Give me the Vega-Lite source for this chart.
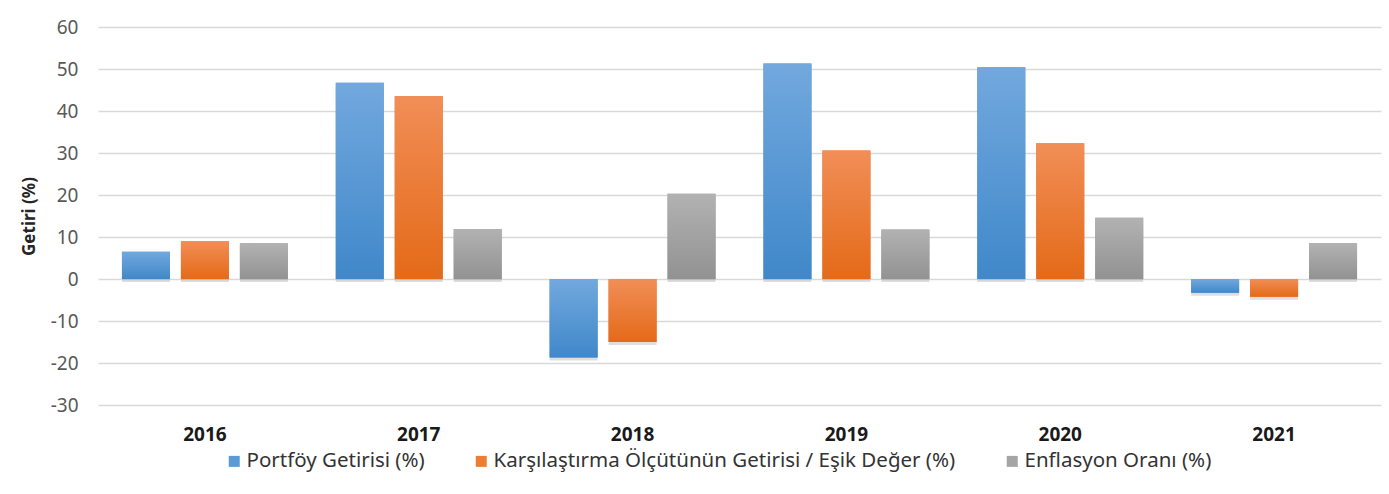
{
  "$schema": "https://vega.github.io/schema/vega-lite/v6.json",
  "width": 1283,
  "height": 378,
  "autosize": "none",
  "padding": {"left": 98, "top": 27, "right": 8, "bottom": 89},
  "background": "white",
  "config": {"view": {"stroke": null}, "font": "Noto Sans"},
  "data": {
    "values": [
      {"year": "2016", "series": "Portföy Getirisi (%)", "value": 6.5},
      {"year": "2016", "series": "Karşılaştırma Ölçütünün Getirisi / Eşik Değer (%)", "value": 9.0},
      {"year": "2016", "series": "Enflasyon Oranı (%)", "value": 8.5},
      {"year": "2017", "series": "Portföy Getirisi (%)", "value": 46.7},
      {"year": "2017", "series": "Karşılaştırma Ölçütünün Getirisi / Eşik Değer (%)", "value": 43.6},
      {"year": "2017", "series": "Enflasyon Oranı (%)", "value": 11.9},
      {"year": "2018", "series": "Portföy Getirisi (%)", "value": -18.7},
      {"year": "2018", "series": "Karşılaştırma Ölçütünün Getirisi / Eşik Değer (%)", "value": -15.0},
      {"year": "2018", "series": "Enflasyon Oranı (%)", "value": 20.3},
      {"year": "2019", "series": "Portföy Getirisi (%)", "value": 51.3},
      {"year": "2019", "series": "Karşılaştırma Ölçütünün Getirisi / Eşik Değer (%)", "value": 30.6},
      {"year": "2019", "series": "Enflasyon Oranı (%)", "value": 11.8},
      {"year": "2020", "series": "Portföy Getirisi (%)", "value": 50.4},
      {"year": "2020", "series": "Karşılaştırma Ölçütünün Getirisi / Eşik Değer (%)", "value": 32.3},
      {"year": "2020", "series": "Enflasyon Oranı (%)", "value": 14.6},
      {"year": "2021", "series": "Portföy Getirisi (%)", "value": -3.3},
      {"year": "2021", "series": "Karşılaştırma Ölçütünün Getirisi / Eşik Değer (%)", "value": -4.2},
      {"year": "2021", "series": "Enflasyon Oranı (%)", "value": 8.5}
    ]
  },
  "encoding": {
    "x": {
      "field": "year",
      "type": "nominal",
      "scale": {"paddingInner": 0.224, "paddingOuter": 0.112},
      "axis": {
        "title": null,
        "labelAngle": 0,
        "domain": false,
        "ticks": false,
        "grid": false,
        "labelFontWeight": "bold",
        "labelFontSize": 19,
        "labelColor": "#1a1a1a",
        "labelPadding": 20
      }
    },
    "xOffset": {
      "field": "series",
      "type": "nominal",
      "scale": {
        "domain": ["Portföy Getirisi (%)", "Karşılaştırma Ölçütünün Getirisi / Eşik Değer (%)", "Enflasyon Oranı (%)"],
        "paddingInner": 0.186,
        "paddingOuter": 0
      }
    },
    "y": {
      "field": "value",
      "type": "quantitative",
      "scale": {"domain": [-30, 60], "nice": false},
      "axis": {
        "values": [-30, -20, -10, 0, 10, 20, 30, 40, 50, 60],
        "labelExpr": "datum.value + ''",
        "grid": true,
        "gridColor": "#d9d9d9",
        "gridWidth": 1.5,
        "domain": false,
        "ticks": false,
        "labelFontSize": 19,
        "labelColor": "#595959",
        "labelPadding": 20,
        "title": "Getiri (%)",
        "titleFontSize": 17,
        "titleFontWeight": "bold",
        "titleColor": "#262626",
        "titlePadding": 12
      }
    }
  },
  "layer": [
    {
      "mark": {"type": "bar", "fill": "#000000", "opacity": 0.13, "yOffset": 3}
    },
    {
      "mark": {"type": "bar"},
      "encoding": {
        "color": {
          "field": "series",
          "type": "nominal",
          "scale": {
            "domain": ["Portföy Getirisi (%)", "Karşılaştırma Ölçütünün Getirisi / Eşik Değer (%)", "Enflasyon Oranı (%)"],
            "range": ["#5b9bd5", "#ed7d31", "#a5a5a5"]
          },
          "legend": {
            "orient": "none",
            "legendX": 126,
            "legendY": 424,
            "direction": "horizontal",
            "title": null,
            "symbolType": "square",
            "symbolSize": 121,
            "symbolStrokeWidth": 0,
            "labelFontSize": 20.5,
            "labelColor": "#333333",
            "labelLimit": 700,
            "columnPadding": 46,
            "labelOffset": 2,
            "padding": 0
          }
        }
      }
    },
    {
      "transform": [{"filter": "datum.series === 'Portföy Getirisi (%)'"}],
      "mark": {
        "type": "bar",
        "fill": {"gradient": "linear", "x1": 0, "y1": 0, "x2": 0, "y2": 1,
          "stops": [{"offset": 0, "color": "#72a8de"}, {"offset": 1, "color": "#4088ca"}]}
      }
    },
    {
      "transform": [{"filter": "datum.series === 'Karşılaştırma Ölçütünün Getirisi / Eşik Değer (%)'"}],
      "mark": {
        "type": "bar",
        "fill": {"gradient": "linear", "x1": 0, "y1": 0, "x2": 0, "y2": 1,
          "stops": [{"offset": 0, "color": "#f18e57"}, {"offset": 1, "color": "#e46a18"}]}
      }
    },
    {
      "transform": [{"filter": "datum.series === 'Enflasyon Oranı (%)'"}],
      "mark": {
        "type": "bar",
        "fill": {"gradient": "linear", "x1": 0, "y1": 0, "x2": 0, "y2": 1,
          "stops": [{"offset": 0, "color": "#b2b2b2"}, {"offset": 1, "color": "#929292"}]}
      }
    }
  ]
}
